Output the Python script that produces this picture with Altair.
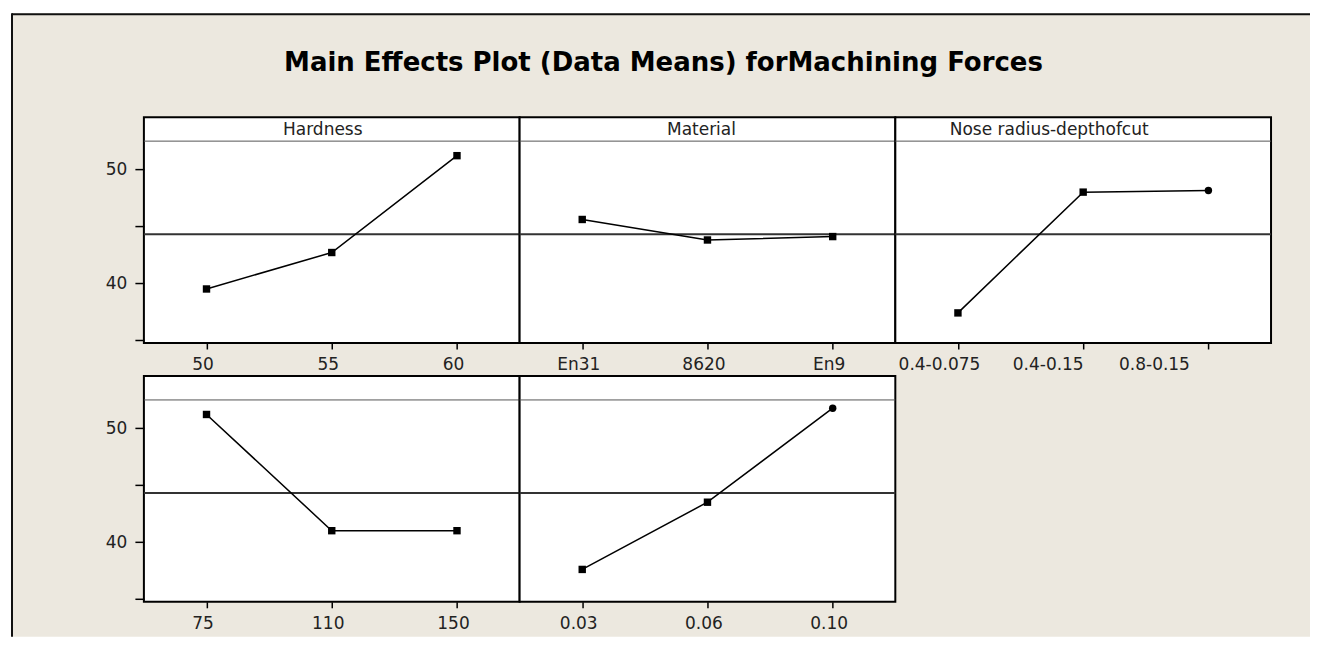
import altair as alt
import pandas as pd

TITLE = "Main Effects Plot (Data Means) forMachining Forces"
FACTORS = ["Hardness", "Material", "Nose radius-depthofcut", "", ""]
LEVELS = [
    ["50", "55", "60"],
    ["En31", "8620", "En9"],
    ["0.4-0.075", "0.4-0.15", "0.8-0.15"],
    ["75", "110", "150"],
    ["0.03", "0.06", "0.10"],
]
MEANS = [
    [39.5, 42.7, 51.2],
    [45.6, 43.8, 44.1],
    [37.4, 48.0, 48.15],
    [51.2, 41.0, 41.0],
    [37.6, 43.5, 51.75],
]
GRAND_MEAN = [44.3]
Y_TICKS = [35, 40, 45, 50]

# ---- layout / style ----
FONT = "DejaVu Sans"
BEIGE = "#ECE8DF"
W, H, HDR = 376, 226, 24
Y_DOMAIN = [34.76, 54.58]
HEADER_DX = [-9, -6, -34, 0, 0]


def panel(i, show_y, with_bg):
    df = pd.DataFrame({"level": LEVELS[i], "mean": MEANS[i]})
    y_scale = alt.Scale(domain=Y_DOMAIN, nice=False, zero=False)

    xa = dict(title=None, domain=False, grid=False, labelAngle=0, tickSize=6,
              tickWidth=1.5, tickColor="black", labelPadding=8, labelFont=FONT,
              labelFontSize=17, labelColor="#222", labelOffset=-4, zindex=1)
    if i == 2:
        xa["labelAlign"] = {"condition": {"test": "datum.value == '0.4-0.075'", "value": "center"},
                            "value": "right"}
        xa["labelOffset"] = {"condition": {"test": "datum.value == '0.4-0.15'", "value": 0},
                             "value": -19}
    x_axis = alt.Axis(**xa)

    if show_y:
        y_axis = alt.Axis(title=None, values=Y_TICKS, domain=False, grid=False,
                          labelExpr="datum.value % 10 === 0 ? datum.label : ''",
                          tickSize=9, tickWidth=1.5, tickColor="black", labelPadding=8,
                          labelFont=FONT, labelFontSize=17, labelColor="#222", zindex=1)
    else:
        y_axis = None

    x_enc = alt.X("level:N", sort=LEVELS[i], scale=alt.Scale(type="point", padding=0.5), axis=x_axis)
    y_enc = alt.Y("mean:Q", scale=y_scale, axis=y_axis)

    layers = []
    if with_bg:
        one = pd.DataFrame({"title": [TITLE]})
        layers.append(alt.Chart(one).mark_rect(color=BEIGE).encode(
            x=alt.value(-132), x2=alt.value(1167), y=alt.value(-104), y2=alt.value(520)))
        layers.append(alt.Chart(one).mark_rule(color="#111", strokeWidth=2).encode(
            x=alt.value(-132), x2=alt.value(1167), y=alt.value(-103)))
        layers.append(alt.Chart(one).mark_rule(color="#111", strokeWidth=2).encode(
            x=alt.value(-132), y=alt.value(-104), y2=alt.value(520)))
        layers.append(alt.Chart(one).mark_text(font=FONT, fontSize=26, fontWeight="bold",
                                               color="black", baseline="alphabetic",
                                               align="center").encode(
            text="title:N", x=alt.value(520), y=alt.value(-46)))
        layers.append(alt.Chart(one).mark_rect(fill="white", stroke="black", strokeWidth=2).encode(
            x=alt.value(0), x2=alt.value(W), y=alt.value(0), y2=alt.value(H)))

    hdr_df = pd.DataFrame({"factor": [FACTORS[i]]})
    layers.append(alt.Chart(hdr_df).mark_rule(color="#555", strokeWidth=1).encode(
        x=alt.value(0), x2=alt.value(W), y=alt.value(HDR)))
    layers.append(alt.Chart(hdr_df).mark_text(font=FONT, fontSize=17, color="#222",
                                              dx=HEADER_DX[i]).encode(
        text="factor:N", x=alt.value(W / 2), y=alt.value(HDR / 2 + 1)))

    mean_df = pd.DataFrame({"mean": GRAND_MEAN})
    layers.append(alt.Chart(mean_df).mark_rule(color="#333", strokeWidth=2).encode(y=y_enc))

    base = alt.Chart(df).encode(x=x_enc, y=y_enc)
    layers.append(base.mark_line(color="black", strokeWidth=1.5))
    layers.append(base.transform_calculate(
        shp="(datum.level == '0.8-0.15' || datum.level == '0.10') ? 'circle' : 'square'"
    ).mark_point(filled=True, color="black", opacity=1, size=55).encode(
        shape=alt.Shape("shp:N", scale=None)))

    return alt.layer(*layers).properties(width=W, height=H)


panels = [
    panel(0, True, True),
    panel(1, False, False),
    panel(2, False, False),
    panel(3, True, False),
    panel(4, False, False),
]

chart = alt.concat(*panels, columns=3, spacing={"row": 33, "column": 0},
                   bounds="flush").properties(
    padding={"left": 2, "top": 3, "right": 0, "bottom": 0}
).configure(background="white").configure_view(stroke="black", strokeWidth=2, fill="white")

chart.save("out.html", embed_options={"renderer": "svg", "actions": False})
